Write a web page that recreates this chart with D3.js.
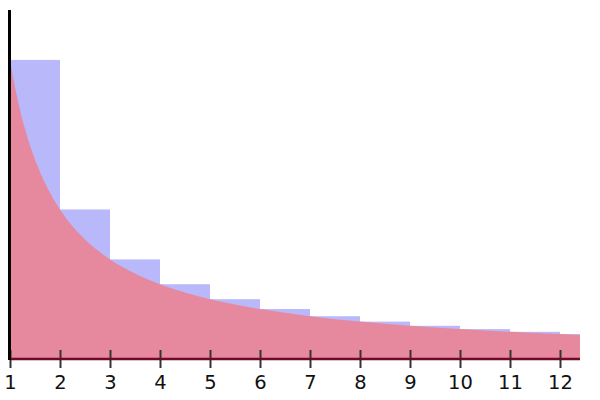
<!DOCTYPE html>
<html><head><meta charset="utf-8">
<script src="https://cdn.jsdelivr.net/npm/d3@7"></script>
<style>body{margin:0;background:#fff}svg{display:block}</style>
</head><body>
<script>
const barStarts = [1,2,3,4,5,6,7,8,9,10,11,12];
const barValues = [1,0.5,0.333,0.25,0.2,0.167,0.143,0.125,0.111,0.1,0.0909,0.0833];
const curveX = [1,1.05,1.1,1.15,1.2,1.3,1.4,1.5,1.65,1.8,2,2.25,2.5,2.75,3,3.5,4,4.5,5,5.5,6,7,8,9,10,11,12,12.4];
const curveY = [1,0.952,0.909,0.870,0.833,0.769,0.714,0.667,0.606,0.556,0.5,0.444,0.4,0.364,0.333,0.286,0.25,0.222,0.2,0.182,0.167,0.143,0.125,0.111,0.1,0.0909,0.0833,0.0806];
const tickValues = [1,2,3,4,5,6,7,8,9,10,11,12];

const W=600,H=400;
const svg=d3.select("body").append("svg").attr("width",W).attr("height",H);
const x=d3.scaleLinear().domain([1,12.4]).range([10,580]);
const y=d3.scaleLinear().domain([0,1.167]).range([359,10]);

svg.append("g").selectAll("rect").data(barStarts.map((s,i)=>({s,v:barValues[i]}))).join("rect")
  .attr("x",d=>x(d.s))
  .attr("width",d=>x(Math.min(d.s+1,12.4))-x(d.s))
  .attr("y",d=>y(d.v))
  .attr("height",d=>y(0)-y(d.v))
  .attr("fill","rgb(184,184,250)");

const area=d3.area().x((d,i)=>x(curveX[i])).y0(y(0)).y1((d,i)=>y(d)).curve(d3.curveMonotoneX);
svg.append("path").datum(curveY).attr("d",area).attr("fill","rgb(231,137,158)");

const ax=svg.append("g").attr("transform",`translate(0,${y(0)})`)
  .call(d3.axisBottom(x).tickValues(tickValues).tickSize(9).tickSizeOuter(0).tickFormat(d3.format("d")));
ax.select(".domain").remove();
ax.selectAll(".tick line").attr("y1",-9).attr("stroke","#333").attr("stroke-width",2);
ax.selectAll(".tick text").attr("y",16).attr("font-family","DejaVu Sans").attr("font-size",19.5).attr("fill","#111");

svg.append("line").attr("x1",x(1)).attr("x2",580).attr("y1",y(0)).attr("y2",y(0))
  .attr("stroke","#6e0a28").attr("stroke-width",2.5);
svg.append("line").attr("x1",9.5).attr("x2",9.5).attr("y1",10).attr("y2",y(0)+1)
  .attr("stroke","#000").attr("stroke-width",3);
</script>
</body></html>
